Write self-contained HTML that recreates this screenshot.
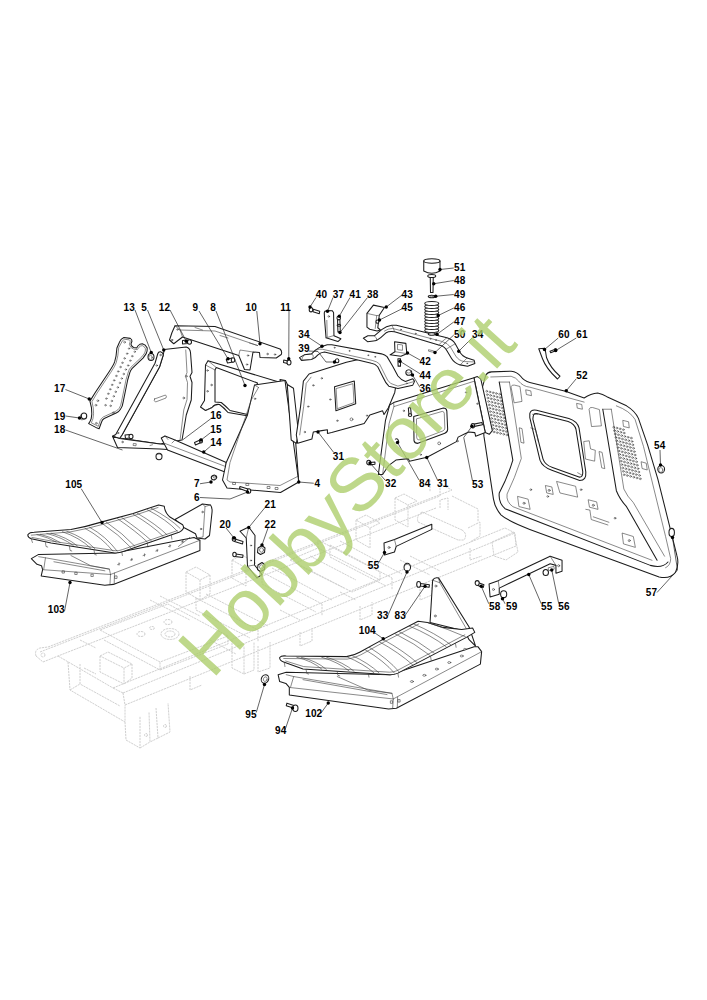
<!DOCTYPE html>
<html lang="it"><head><meta charset="utf-8"><title>HobbyStore.it</title>
<style>
html,body{margin:0;padding:0;background:#fff}
svg{display:block;font-family:"Liberation Sans",sans-serif}
.p *{vector-effect:non-scaling-stroke}
.p{fill:#fff;stroke:#1c1c1c;stroke-width:1.05;stroke-linejoin:round;stroke-linecap:round}
.n{fill:none}
.t{stroke-width:.6;stroke:#3a3a3a}
.ch{fill:none;stroke:#d0d0d0;stroke-width:1;stroke-dasharray:2.2 .8}
.ch *{vector-effect:non-scaling-stroke}
.ld{fill:none;stroke:#222;stroke-width:.7}
.dt{fill:#000}
.lb{font-weight:bold;font-size:10px;fill:#000}
.wm{font-size:75px;fill:#aecf6d;opacity:.8}
</style></head><body>
<svg width="707" height="1000" viewBox="0 0 707 1000">
<rect width="707" height="1000" fill="#fff"/>
<g class="ch">
<!-- far rail -->
<path d="M40,652 L440,496 M43,662 L58,656 L436,508 M48,647 L452,490 M36,656 Q34,650 40,648 L48,647 M36,656 L43,662"/>
<circle cx="43" cy="655" r="2"/>
<!-- near rail -->
<path d="M123,693 L515,533 M125,705 L516,546 M113,688 L505,528 M123,693 L125,705 M113,688 L123,693 M505,528 L515,533 L516,546"/>
<!-- left cross member -->
<path d="M58,656 L113,688 M68,662 L70,690 L125,722 L125,705 M70,690 L80,684 M80,664 L80,684 L120,706"/>
<!-- legs -->
<path d="M125,722 L126,740 L140,748 L140,716 M140,748 L150,742 L149,712 M156,708 L158,738 L170,732 L168,703 M158,738 L150,742"/>
<circle cx="146" cy="735" r="1.500"/><circle cx="165" cy="726" r="1.500"/>
<!-- deck plate -->
<path d="M100,630 L160,662 L228,636 L168,604 Z M104,640 L160,670 L160,662 M160,670 L228,644 L228,636"/>
<ellipse cx="170" cy="634" rx="9" ry="5.500"/><ellipse cx="170" cy="634" rx="5" ry="3"/><ellipse cx="141" cy="634" rx="4" ry="2.500"/><ellipse cx="168" cy="622" rx="4" ry="2.500"/><ellipse cx="152" cy="628" rx="2.500" ry="1.500"/>
<!-- motor box -->
<path d="M100,656 L100,672 L124,684 L124,668 Z M100,656 L108,652 L132,664 L124,668 M132,664 L132,678 L124,684 M80,640 L96,648 M84,668 L96,674"/>
<!-- cross members -->
<path d="M196,598 L258,630 M206,594 L268,626 M258,630 L258,642 M196,598 L196,610 L250,638"/>
<path d="M262,572 L322,604 M272,568 L332,600 M322,604 L322,616 M262,572 L262,584 L316,612"/>
<path d="M330,545 L392,578 M340,541 L402,574 M392,578 L392,590 M330,545 L330,557 L386,586"/>
<!-- posts / brackets -->
<path d="M186,572 L186,592 L200,600 L200,580 Z M186,572 L196,567 L210,575 L200,580 M210,575 L210,594 L200,600"/>
<path d="M232,560 L232,578 L246,586 L246,568 Z M232,560 L242,555 L256,563 L246,568"/>
<path d="M232,640 L232,668 L244,674 L244,646 M244,674 L254,670 L254,642 M258,646 L258,672 L270,668 L270,642"/>
<path d="M290,560 L352,592 L380,580 L318,548 Z M300,566 L344,588 M310,556 L356,580 M318,548 L318,540 L380,572 L380,580"/>
<path d="M356,520 L356,540 L370,548 L370,528 Z M356,520 L366,515 L380,523 L370,528"/>
<path d="M395,498 L395,520 L408,527 L408,505 Z M395,498 L404,494 L417,501 L408,505"/>
<!-- tube -->
<path d="M422,512 L462,530 M418,522 L458,540 M422,512 Q416,516 418,522 M462,530 Q468,534 464,540 L458,540 M440,508 L440,500 L448,498 L448,510"/>
<path d="M468,528 L480,522 L480,536 L470,542 M452,496 L478,509 L478,522 M430,480 L430,492 M440,496 L440,484 L452,490"/>
<!-- right end foot -->
<path d="M492,542 L514,532 L518,552 L506,560 L494,556 Z M470,548 L470,560 L482,556"/>
<path d="M420,586 L420,600 L432,595 L432,582 M300,632 L300,646 L312,641 L312,628 M360,606 L360,620 L372,615 L372,602 M190,676 L190,690 L202,685"/>
<path d="M150,600 L190,620 M160,596 L200,616 M210,640 L236,654 M280,610 L300,620 M340,592 L356,600 M400,560 L430,575 M410,556 L440,571"/>
</g>
<!-- LEFT GROUP : plate 17 zoom origin (80,325) scale 1/7.856 -->
<g class="p" transform="translate(80,325) scale(.12729)">
<path d="M310,135 Q318,110 345,98 L395,105 Q410,112 408,128 L400,150 Q405,170 422,176 L445,180 Q455,160 470,152 L490,148 Q515,155 528,180 Q530,205 520,225 L495,260 L410,340 Q398,352 392,372 L375,430 L340,600 Q335,640 318,662 Q305,682 288,690 L190,735 Q175,745 170,760 L150,815 L135,810 L68,775 Q82,755 88,735 Q96,700 90,650 L78,598 L120,530 L230,365 Q262,318 272,290 Q286,245 290,180 Z"/>
<path class="n t" d="M324,140 Q330,120 350,112 L388,117 Q396,122 394,132 L388,152 Q394,180 418,188 L450,194 Q462,172 476,165 L490,162 Q508,168 514,186 Q515,205 508,220 L486,250 L400,332 Q386,346 380,368 L362,428 L327,598 Q322,635 308,654 Q298,668 282,677 L184,722 Q166,733 158,752 L144,796 L88,768 Q98,750 102,735 Q110,700 104,650 L94,602 L132,538 L242,372 Q274,325 285,295 Q300,245 304,180 Z"/>
</g>
<g class="p" transform="translate(80,325) scale(.12729)" style="fill:none;stroke-width:.5;stroke:#333">
<circle cx="385" cy="185" r="6"/><circle cx="370" cy="225" r="6"/><circle cx="350" cy="262" r="6"/><circle cx="333" cy="297" r="6"/><circle cx="318" cy="330" r="6"/><circle cx="300" cy="365" r="6"/><circle cx="285" cy="400" r="6"/><circle cx="268" cy="435" r="6"/><circle cx="252" cy="470" r="6"/><circle cx="237" cy="505" r="6"/><circle cx="222" cy="540" r="6"/><circle cx="207" cy="578" r="6"/><circle cx="200" cy="630" r="6"/><circle cx="430" cy="210" r="6"/><circle cx="410" cy="245" r="6"/><circle cx="395" cy="280" r="6"/><circle cx="378" cy="318" r="6"/><circle cx="360" cy="350" r="6"/><circle cx="343" cy="385" r="6"/><circle cx="328" cy="420" r="6"/><circle cx="313" cy="455" r="6"/><circle cx="297" cy="490" r="6"/><circle cx="280" cy="525" r="6"/><circle cx="265" cy="560" r="6"/><circle cx="250" cy="597" r="6"/><circle cx="240" cy="635" r="6"/><circle cx="350" cy="135" r="7"/><circle cx="140" cy="595" r="7"/><circle cx="125" cy="630" r="7"/><circle cx="128" cy="772" r="7"/><circle cx="262" cy="690" r="7"/>
</g>
<g class="p" transform="translate(0,250) scale(.25)">
<!-- part 19 bolt -->
<ellipse cx="336" cy="664" rx="11" ry="12"/><path class="n t" d="M322,660 Q318,672 326,680 L340,676"/>
<!-- part 13 nut -->
<ellipse cx="604" cy="428" rx="12" ry="14"/><ellipse class="t" cx="602" cy="430" rx="7" ry="9"/>
</g>
<!-- tile B origin (140,290) -->
<g class="p" transform="translate(140,290) scale(.25)">
<!-- top bracket 10/12 -->
<path d="M140,143 L300,146 L560,236 Q570,245 565,258 L545,272 L480,270 L478,250 L452,248 L440,320 L418,318 L395,262 L170,188 L135,215 L118,200 L128,170 Z"/>
<path class="n t" d="M160,160 L300,164 L470,222 M170,188 L160,160 L140,143 M395,262 L400,240 L452,248 M220,150 L250,160 M320,182 L352,192 M438,212 L470,222"/>
<circle class="t" cx="128" cy="200" r="3"/><circle class="t" cx="150" cy="158" r="3"/><circle class="t" cx="510" cy="256" r="3"/><circle class="t" cx="540" cy="258" r="3"/><circle class="t" cx="432" cy="262" r="3"/><circle class="t" cx="428" cy="298" r="3"/>
<!-- bolt 12 -->
<path d="M170,202 L192,200 L192,214 L170,216 Z"/><ellipse cx="198" cy="208" rx="8" ry="9"/>
<!-- frame 8 -->
<path d="M272,283 L562,370 L562,392 L440,505 L352,490 Q335,470 318,458 Q300,455 288,470 L262,482 L242,468 L258,442 L262,300 Z"/>
<path class="n" d="M305,310 L470,372 L430,498 L360,482 Q340,462 325,450 L300,448 L300,320 Z"/>
<path class="n t" d="M262,300 L300,320 M272,283 L305,310 M262,482 L288,470"/>
<circle class="t" cx="270" cy="322" r="3"/><circle class="t" cx="286" cy="380" r="3"/><circle class="t" cx="270" cy="405" r="3"/>
<!-- bolt 9 -->
<path d="M345,278 L368,272 L372,288 L350,292 Z"/><ellipse cx="372" cy="280" rx="7" ry="9"/>
</g>
<g class="p" transform="translate(0,250) scale(.25)">
<!-- panel 5 : polygon in tile A coords (tile B x +560, y+160) -->
<path d="M657,398 L745,388 Q760,392 762,410 L768,490 L760,505 L768,530 L765,600 L755,630 L745,660 L735,720 L728,760 L640,776 L478,752 L488,740 L638,468 L653,420 Z"/>
<path class="n t" d="M743,400 L748,490 L742,505 L750,530 L748,598 L735,640 L720,762"/>
<circle class="t" cx="745" cy="505" r="3.5"/><circle class="t" cx="735" cy="592" r="3.5"/>
<path class="t" d="M618,596 L662,580 Q668,584 664,592 L622,608 Q614,604 618,596 Z"/>
<!-- bar -->
<path d="M631,415 Q634,406 642,407 Q652,410 653,420 L638,468 L488,740 L478,754 L450,745 L463,738 L620,453 Z"/>
<circle class="t" cx="642" cy="420" r="3"/><circle class="t" cx="627" cy="462" r="3"/><circle class="t" cx="472" cy="732" r="3"/>
<!-- strip 18 -->
<path d="M450,745 L478,754 L640,776 L720,780 L700,800 L640,796 L470,790 Z"/>
<circle class="t" cx="490" cy="768" r="3"/><path class="n t" d="M535,774 l10,1 l-1,8 l-10,-1 z M600,782 l10,-3"/>
<!-- bolts -->
<path d="M500,740 L520,738 L522,752 L502,754 Z"/><ellipse cx="524" cy="746" rx="8" ry="9"/>
<ellipse cx="636" cy="826" rx="12" ry="13"/><path class="n t" d="M626,818 Q636,812 648,820"/>
</g>
<g class="p" transform="translate(140,290) scale(.25)">
<!-- rail 14 -->
<path d="M85,592 L100,584 L140,600 L345,690 L340,728 L110,640 L95,612 Z"/>
<path class="n t" d="M95,612 L342,706 M140,600 L128,612 M100,584 L112,598"/>
<!-- bolt 15 -->
<path d="M218,610 L240,600 L244,610 L222,620 Z"/><ellipse cx="244" cy="604" rx="6" ry="8"/>
<!-- panel 4 -->
<path d="M560,358 L582,362 L600,400 L606,470 L612,520 L625,570 L622,600 L635,768 Z"/>
<path d="M458,380 L580,362 L635,768 L562,810 L348,792 L330,760 L345,690 L430,500 Z"/>
<path class="n t" d="M474,390 L445,440 L360,690 L348,760 L360,768 L560,782 L632,745 M458,380 L474,390"/>
<path class="n t" d="M372,770 h10 v8 h-10 z M425,774 h10 v8 h-10 z M510,786 h10 v8 h-10 z M542,790 h10 v8 h-10 z"/>
<circle class="t" cx="460" cy="435" r="3"/><circle class="t" cx="588" cy="392" r="3"/><circle class="t" cx="610" cy="520" r="3"/>
<!-- bolt 6 / 7 -->
<path d="M400,786 L432,796 L430,806 L398,794 Z"/><ellipse cx="436" cy="804" rx="7" ry="9"/>
<ellipse cx="296" cy="750" rx="11" ry="9" transform="rotate(-30 296 750)"/><ellipse class="t" cx="298" cy="748" rx="5" ry="4" transform="rotate(-30 298 748)"/>
<!-- bolt 11 -->
<path d="M575,280 L592,284 L590,294 L574,290 Z"/><ellipse cx="596" cy="290" rx="8" ry="10"/>
</g>
<!-- HOOD 52 : zoom origin (467,360) scale 1/2.946 -->
<g class="p" transform="translate(467,360) scale(.33946)">
<path d="M55,45 Q60,36 72,35 L130,33 Q148,35 158,48 Q168,62 185,66 L290,92 L345,112 Q365,98 385,97 Q400,100 412,108 L470,135 Q495,150 505,172 L532,250 L562,350 L592,470 L618,575 Q626,602 614,626 Q598,646 566,639 L185,499 Q120,474 100,456 Q82,435 78,410 L50,225 L40,100 Z"/>
<path class="n" d="M95,65 L135,295 Q120,345 95,392 Q92,420 112,438 L540,605 Q575,615 592,595"/>
<path class="n t" d="M125,65 L160,290 Q140,350 118,395 Q115,418 135,432 L545,590 M95,65 L125,65"/>
<path class="n" d="M400,145 L440,385 Q450,410 470,432 L560,590"/>
<path class="n t" d="M425,145 L462,380 Q472,402 490,420 L582,578 M400,145 L425,145"/>
<path class="n t" d="M440,135 Q480,150 495,175 L520,255 L585,520 L600,585 Q600,605 585,612"/>
<path class="n t" d="M70,50 L130,48 Q145,52 152,62 Q165,78 185,80 L345,124"/>
<!-- window -->
<path class="n" d="M185,158 Q188,145 205,148 L300,172 Q325,180 330,200 L350,330 Q352,355 332,355 L250,325 Q222,315 215,295 L185,170 Z"/>
<path class="n" d="M195,166 Q197,155 208,158 L298,181 Q317,188 321,204 L341,329 Q342,346 330,345 L252,317 Q230,309 224,292 L194,174 Z"/>
<path class="n t" d="M193,160 L208,160 M340,340 L326,332 M188,200 L202,205 L210,240"/>
<!-- small rects -->
<path class="t" d="M130,78 Q132,72 140,74 L156,78 L162,122 L140,126 Z"/>
<path class="t" d="M360,144 Q362,138 370,140 L390,146 L396,194 L368,196 Z"/>
<path class="t" d="M265,358 L320,372 L326,404 L275,392 Z"/>
<path class="t" d="M155,200 L162,202 L168,245 L160,243 Z M390,270 L398,272 L406,320 L398,318 Z"/>
<path class="t" d="M345,240 L360,238 L364,262 L378,266 L376,298 L350,292 Z"/>
<!-- tabs -->
<path class="t" d="M150,402 L180,410 L186,440 L154,432 Z M232,370 L250,374 L254,396 L236,392 Z M358,412 L382,418 L386,440 L362,434 Z M458,510 L490,520 L496,552 L462,542 Z M174,88 l14,3 l2,14 l-14,-3 z M324,128 l14,3 l2,14 l-14,-3 z M460,178 l16,4 l2,18 l-16,-4 z M514,300 l14,4 l3,20 l-14,-4 z"/>
<path class="n t" d="M350,440 L362,442 L366,470 L415,486 M372,462 L418,478"/>
<circle class="t" cx="168" cy="422" r="3"/><circle class="t" cx="242" cy="384" r="3"/><circle class="t" cx="372" cy="428" r="3"/><circle class="t" cx="478" cy="532" r="3"/><circle class="t" cx="188" cy="382" r="2.500"/><circle class="t" cx="336" cy="382" r="2.500"/><circle class="t" cx="436" cy="466" r="2.500"/><circle class="t" cx="238" cy="402" r="2.500"/>
<!-- nut 54, bolt 57 -->
<ellipse cx="572" cy="322" rx="10" ry="11"/><ellipse class="t" cx="571" cy="324" rx="6" ry="7"/>
<ellipse cx="603" cy="508" rx="8" ry="12"/>
<!-- bracket 55/56 -->
<path d="M65,660 L92,650 L245,578 L280,590 L280,622 L262,628 L262,605 L245,600 L95,672 L95,690 L68,698 Z"/>
<path class="n t" d="M92,650 L95,672 M245,578 L262,605"/><circle class="t" cx="78" cy="676" r="3"/><circle class="t" cx="270" cy="606" r="3"/>
<path d="M34,656 L50,662 L48,670 L32,664 Z"/><ellipse cx="30" cy="657" rx="6" ry="7"/>
<ellipse cx="108" cy="690" rx="9" ry="10"/>
<ellipse cx="232" cy="626" rx="8" ry="9"/><path class="t" d="M240,612 L256,608 L257,616 L242,620 Z"/>
</g>
<g class="p" transform="translate(467,360) scale(.33946)" style="fill:none;stroke-width:.45">
<circle cx="58.0" cy="92.0" r="2.6"/>
<circle cx="67.5" cy="94.2" r="2.6"/>
<circle cx="77.0" cy="96.4" r="2.6"/>
<circle cx="86.5" cy="98.6" r="2.6"/>
<circle cx="96.0" cy="100.8" r="2.6"/>
<circle cx="59.8" cy="102.0" r="2.6"/>
<circle cx="69.3" cy="104.2" r="2.6"/>
<circle cx="78.8" cy="106.4" r="2.6"/>
<circle cx="88.3" cy="108.6" r="2.6"/>
<circle cx="97.8" cy="110.8" r="2.6"/>
<circle cx="61.6" cy="112.0" r="2.6"/>
<circle cx="71.1" cy="114.2" r="2.6"/>
<circle cx="80.6" cy="116.4" r="2.6"/>
<circle cx="90.1" cy="118.6" r="2.6"/>
<circle cx="99.6" cy="120.8" r="2.6"/>
<circle cx="63.4" cy="122.0" r="2.6"/>
<circle cx="72.9" cy="124.2" r="2.6"/>
<circle cx="82.4" cy="126.4" r="2.6"/>
<circle cx="91.9" cy="128.6" r="2.6"/>
<circle cx="101.4" cy="130.8" r="2.6"/>
<circle cx="65.2" cy="132.0" r="2.6"/>
<circle cx="74.7" cy="134.2" r="2.6"/>
<circle cx="84.2" cy="136.4" r="2.6"/>
<circle cx="93.7" cy="138.6" r="2.6"/>
<circle cx="103.2" cy="140.8" r="2.6"/>
<circle cx="67.0" cy="142.0" r="2.6"/>
<circle cx="76.5" cy="144.2" r="2.6"/>
<circle cx="86.0" cy="146.4" r="2.6"/>
<circle cx="95.5" cy="148.6" r="2.6"/>
<circle cx="105.0" cy="150.8" r="2.6"/>
<circle cx="68.8" cy="152.0" r="2.6"/>
<circle cx="78.3" cy="154.2" r="2.6"/>
<circle cx="87.8" cy="156.4" r="2.6"/>
<circle cx="97.3" cy="158.6" r="2.6"/>
<circle cx="106.8" cy="160.8" r="2.6"/>
<circle cx="70.6" cy="162.0" r="2.6"/>
<circle cx="80.1" cy="164.2" r="2.6"/>
<circle cx="89.6" cy="166.4" r="2.6"/>
<circle cx="99.1" cy="168.6" r="2.6"/>
<circle cx="108.6" cy="170.8" r="2.6"/>
<circle cx="72.4" cy="172.0" r="2.6"/>
<circle cx="81.9" cy="174.2" r="2.6"/>
<circle cx="91.4" cy="176.4" r="2.6"/>
<circle cx="100.9" cy="178.6" r="2.6"/>
<circle cx="110.4" cy="180.8" r="2.6"/>
<circle cx="74.2" cy="182.0" r="2.6"/>
<circle cx="83.7" cy="184.2" r="2.6"/>
<circle cx="93.2" cy="186.4" r="2.6"/>
<circle cx="102.7" cy="188.6" r="2.6"/>
<circle cx="112.2" cy="190.8" r="2.6"/>
<circle cx="76.0" cy="192.0" r="2.6"/>
<circle cx="85.5" cy="194.2" r="2.6"/>
<circle cx="95.0" cy="196.4" r="2.6"/>
<circle cx="104.5" cy="198.6" r="2.6"/>
<circle cx="114.0" cy="200.8" r="2.6"/>
<circle cx="77.8" cy="202.0" r="2.6"/>
<circle cx="87.3" cy="204.2" r="2.6"/>
<circle cx="96.8" cy="206.4" r="2.6"/>
<circle cx="106.3" cy="208.6" r="2.6"/>
<circle cx="115.8" cy="210.8" r="2.6"/>
<circle cx="79.6" cy="212.0" r="2.6"/>
<circle cx="89.1" cy="214.2" r="2.6"/>
<circle cx="98.6" cy="216.4" r="2.6"/>
<circle cx="108.1" cy="218.6" r="2.6"/>
<circle cx="117.6" cy="220.8" r="2.6"/>
<circle cx="432.0" cy="198.0" r="2.6"/>
<circle cx="441.5" cy="200.4" r="2.6"/>
<circle cx="451.0" cy="202.8" r="2.6"/>
<circle cx="460.5" cy="205.2" r="2.6"/>
<circle cx="434.2" cy="208.0" r="2.6"/>
<circle cx="443.7" cy="210.4" r="2.6"/>
<circle cx="453.2" cy="212.8" r="2.6"/>
<circle cx="462.7" cy="215.2" r="2.6"/>
<circle cx="436.4" cy="218.0" r="2.6"/>
<circle cx="445.9" cy="220.4" r="2.6"/>
<circle cx="455.4" cy="222.8" r="2.6"/>
<circle cx="464.9" cy="225.2" r="2.6"/>
<circle cx="474.4" cy="227.6" r="2.6"/>
<circle cx="483.9" cy="230.0" r="2.6"/>
<circle cx="438.6" cy="228.0" r="2.6"/>
<circle cx="448.1" cy="230.4" r="2.6"/>
<circle cx="457.6" cy="232.8" r="2.6"/>
<circle cx="467.1" cy="235.2" r="2.6"/>
<circle cx="476.6" cy="237.6" r="2.6"/>
<circle cx="486.1" cy="240.0" r="2.6"/>
<circle cx="440.8" cy="238.0" r="2.6"/>
<circle cx="450.3" cy="240.4" r="2.6"/>
<circle cx="459.8" cy="242.8" r="2.6"/>
<circle cx="469.3" cy="245.2" r="2.6"/>
<circle cx="478.8" cy="247.6" r="2.6"/>
<circle cx="488.3" cy="250.0" r="2.6"/>
<circle cx="443.0" cy="248.0" r="2.6"/>
<circle cx="452.5" cy="250.4" r="2.6"/>
<circle cx="462.0" cy="252.8" r="2.6"/>
<circle cx="471.5" cy="255.2" r="2.6"/>
<circle cx="481.0" cy="257.6" r="2.6"/>
<circle cx="490.5" cy="260.0" r="2.6"/>
<circle cx="445.2" cy="258.0" r="2.6"/>
<circle cx="454.7" cy="260.4" r="2.6"/>
<circle cx="464.2" cy="262.8" r="2.6"/>
<circle cx="473.7" cy="265.2" r="2.6"/>
<circle cx="483.2" cy="267.6" r="2.6"/>
<circle cx="492.7" cy="270.0" r="2.6"/>
<circle cx="447.4" cy="268.0" r="2.6"/>
<circle cx="456.9" cy="270.4" r="2.6"/>
<circle cx="466.4" cy="272.8" r="2.6"/>
<circle cx="475.9" cy="275.2" r="2.6"/>
<circle cx="485.4" cy="277.6" r="2.6"/>
<circle cx="494.9" cy="280.0" r="2.6"/>
<circle cx="449.6" cy="278.0" r="2.6"/>
<circle cx="459.1" cy="280.4" r="2.6"/>
<circle cx="468.6" cy="282.8" r="2.6"/>
<circle cx="478.1" cy="285.2" r="2.6"/>
<circle cx="487.6" cy="287.6" r="2.6"/>
<circle cx="497.1" cy="290.0" r="2.6"/>
<circle cx="451.8" cy="288.0" r="2.6"/>
<circle cx="461.3" cy="290.4" r="2.6"/>
<circle cx="470.8" cy="292.8" r="2.6"/>
<circle cx="480.3" cy="295.2" r="2.6"/>
<circle cx="489.8" cy="297.6" r="2.6"/>
<circle cx="499.3" cy="300.0" r="2.6"/>
<circle cx="454.0" cy="298.0" r="2.6"/>
<circle cx="463.5" cy="300.4" r="2.6"/>
<circle cx="473.0" cy="302.8" r="2.6"/>
<circle cx="482.5" cy="305.2" r="2.6"/>
<circle cx="492.0" cy="307.6" r="2.6"/>
<circle cx="501.5" cy="310.0" r="2.6"/>
<circle cx="456.2" cy="308.0" r="2.6"/>
<circle cx="465.7" cy="310.4" r="2.6"/>
<circle cx="475.2" cy="312.8" r="2.6"/>
<circle cx="484.7" cy="315.2" r="2.6"/>
<circle cx="494.2" cy="317.6" r="2.6"/>
<circle cx="503.7" cy="320.0" r="2.6"/>
<circle cx="458.4" cy="318.0" r="2.6"/>
<circle cx="467.9" cy="320.4" r="2.6"/>
<circle cx="477.4" cy="322.8" r="2.6"/>
<circle cx="486.9" cy="325.2" r="2.6"/>
<circle cx="496.4" cy="327.6" r="2.6"/>
<circle cx="505.9" cy="330.0" r="2.6"/>
<circle cx="460.6" cy="328.0" r="2.6"/>
<circle cx="470.1" cy="330.4" r="2.6"/>
<circle cx="479.6" cy="332.8" r="2.6"/>
<circle cx="489.1" cy="335.2" r="2.6"/>
<circle cx="498.6" cy="337.6" r="2.6"/>
<circle cx="508.1" cy="340.0" r="2.6"/>
<circle cx="462.8" cy="338.0" r="2.6"/>
<circle cx="472.3" cy="340.4" r="2.6"/>
<circle cx="481.8" cy="342.8" r="2.6"/>
<circle cx="491.3" cy="345.2" r="2.6"/>
<circle cx="500.8" cy="347.6" r="2.6"/>
<circle cx="510.3" cy="350.0" r="2.6"/>
</g>
<!-- CENTER GROUP -->
<g class="p" transform="translate(285,350) scale(.28289)">
<!-- panel 31 left : side flange -->
<path d="M8,122 L30,135 L48,295 L40,330 L22,318 Z"/>
<!-- panel 31 left -->
<path d="M85,85 L217,43 L330,18 L392,125 L388,150 L365,205 L350,228 L345,215 L300,230 L280,260 L165,292 L150,295 L150,282 L130,285 L100,290 L95,315 L45,330 L40,300 L55,200 L65,110 Z"/>
<path class="n" d="M175,130 L245,110 L250,190 L180,215 Z"/>
<path class="n t" d="M182,136 L240,119 L244,186 L186,207 Z M92,96 L75,118 L66,200 L52,300"/>
<circle class="t" cx="235" cy="245" r="5"/><circle class="t" cx="185" cy="250" r="2.5"/><circle class="t" cx="290" cy="232" r="2.5"/><circle class="t" cx="100" cy="125" r="2.5"/><circle class="t" cx="82" cy="200" r="2.5"/><circle class="t" cx="160" cy="175" r="2.5"/><circle class="t" cx="130" cy="100" r="2.5"/><circle class="t" cx="70" cy="290" r="2.5"/>
<!-- panel 84/31 right : side flange -->
<path d="M668,98 L680,94 L692,102 L733,285 L722,298 L708,292 Z"/>
<!-- panel 84 -->
<path d="M370,195 L384,186 L668,98 L672,120 L708,292 L674,305 L671,292 L650,290 L638,295 L612,308 L606,324 L502,379 L440,393 L436,384 L392,389 L366,409 L345,440 L330,440 L355,250 Z"/>
<path class="n t" d="M385,200 L368,260 L345,440 M384,186 L385,200 L670,110"/>
<path class="n" d="M455,235 L560,205 Q570,205 572,215 L575,280 Q575,290 565,294 L470,330 Q458,330 456,320 Z"/>
<path class="n t" d="M466,243 L556,217 Q562,217 563,224 L565,276 Q565,283 558,286 L474,318 Q467,318 466,312 Z"/>
<circle class="t" cx="545" cy="330" r="5"/><circle class="t" cx="640" cy="150" r="2.5"/><circle class="t" cx="680" cy="190" r="2.5"/><circle class="t" cx="480" cy="370" r="2.5"/><circle class="t" cx="610" cy="322" r="2.5"/><circle class="t" cx="420" cy="215" r="2.5"/>
<!-- bolt on 84 top -->
<path d="M436,205 L444,203 L446,225 L438,227 Z"/><ellipse cx="442" cy="230" rx="6" ry="5"/>
<!-- bolt 84 inner clip -->
<path class="n" d="M390,315 Q400,310 402,325"/>
<!-- bolt 53 -->
<path d="M668,262 L696,256 L698,264 L670,270 Z"/><ellipse cx="664" cy="268" rx="6" ry="8"/>
<!-- bolt 32 -->
<path d="M300,398 L318,396 L318,404 L300,406 Z"/><ellipse cx="296" cy="398" rx="7" ry="8"/>
</g>
<g class="p" transform="translate(290,280) scale(.19802)">
<!-- crossbar 34 rear-left -->
<path d="M48,392 L72,378 L109,373 L127,355 Q145,340 165,334 L188,327 L211,327 L462,373 Q480,378 490,387 L518,434 L545,485 Q560,505 583,512 L620,499 L629,512 L620,531 L545,548 L499,536 Q482,520 471,494 L443,438 Q430,422 411,420 L174,364 Q155,366 141,378 Q125,398 109,401 L58,406 Z"/>
<path class="n t" d="M127,355 Q150,346 165,350 L415,406 Q440,412 452,424 L480,480 Q492,510 508,522 L545,536 L629,512 M109,373 Q128,382 109,401 M72,378 Q60,392 58,406"/>
<circle class="t" cx="225" cy="342" r="2.500"/><circle class="t" cx="300" cy="358" r="2.500"/><circle class="t" cx="395" cy="380" r="2.500"/><circle class="t" cx="430" cy="388" r="2.500"/><circle class="t" cx="590" cy="522" r="2.500"/>
<!-- small parts on crossbar -->
<ellipse cx="238" cy="408" rx="9" ry="10"/><path class="n t" d="M225,410 L222,420"/>
<!-- bracket 37 -->
<path d="M173,166 L176,158 L188,154 L213,155 L220,164 L222,282 L257,297 L242,311 L182,292 L175,204 Z"/>
<path class="n t" d="M182,292 L220,281 L222,282 M186,204 L188,286"/><circle class="t" cx="196" cy="184" r="4"/>
<!-- bolt 40 -->
<path d="M118,148 L150,158 L148,170 L116,160 Z"/><ellipse cx="106" cy="150" rx="9" ry="11"/>
<!-- bolt 41 -->
<path d="M240,200 L252,200 L254,262 L242,262 Z"/><ellipse cx="246" cy="192" rx="9" ry="9"/><ellipse cx="247" cy="228" rx="9" ry="5"/>
<!-- bracket 42 -->
<path d="M528,312 L585,320 L590,372 L560,385 L505,378 L530,362 Z"/>
<path class="n t" d="M530,362 L590,372 M545,325 L568,328 L568,355 L545,352 Z"/>
<!-- bolt 44 -->
<path d="M545,398 L558,398 L558,435 L546,435 Z"/>
<!-- nut 36 -->
<ellipse cx="600" cy="468" rx="15" ry="13"/><ellipse class="t" cx="600" cy="462" rx="11" ry="8"/>
</g>
<!-- crossbar 50/34 + cover 43 : zoom origin (355,295) scale 1/5.438 -->
<g class="p" transform="translate(355,295) scale(.18389)">
<path d="M65,100 L100,55 L160,68 L132,110 L124,178 L138,190 L120,196 L80,186 L65,175 Z"/>
<path class="n t" d="M65,100 L118,112 L132,110 M118,112 L110,182"/>
<ellipse cx="122" cy="145" rx="8" ry="9"/>
<path d="M45,235 L70,222 L105,222 Q125,205 145,188 Q170,170 200,165 L225,165 L500,232 Q530,240 545,265 L570,310 Q585,335 610,342 L648,355 L652,372 L612,388 L572,380 Q540,370 525,345 L495,295 Q480,275 455,272 L215,200 Q185,195 170,205 L140,232 Q120,250 100,250 L68,254 Z"/>
<path class="n t" d="M105,222 Q122,232 118,246 M200,165 Q212,182 215,200 M500,232 Q475,250 455,272 M545,265 L495,295 M610,342 L572,380 M160,196 Q180,182 205,182 L470,252 Q505,260 520,285 L548,332 Q565,358 595,362 L650,364"/>
<path class="t" d="M402,298 L428,304 L428,312 L402,306 Z"/>
<circle class="t" cx="250" cy="188" r="2.500"/><circle class="t" cx="330" cy="210" r="2.500"/><circle class="t" cx="410" cy="238" r="3"/><circle class="t" cx="440" cy="245" r="2.500"/><circle class="t" cx="610" cy="372" r="2.500"/>
</g>
<!-- RIGHT GROUP: spring assy & right crossbar, tile D origin (400,250) scale 1/4 -->
<g class="p" transform="translate(400,250) scale(.25)">
<!-- spring 46 -->
<path d="M99,215 L99,320 Q127,336 155,320 L155,215 Z" style="stroke:none"/>
<ellipse cx="127" cy="322" rx="28" ry="8"/>
<ellipse cx="127" cy="310" rx="28" ry="8"/>
<ellipse cx="127" cy="298" rx="28" ry="8"/>
<ellipse cx="127" cy="286" rx="28" ry="8"/>
<ellipse cx="127" cy="274" rx="28" ry="8"/>
<ellipse cx="127" cy="262" rx="28" ry="8"/>
<ellipse cx="127" cy="250" rx="28" ry="8"/>
<ellipse cx="127" cy="238" rx="28" ry="8"/>
<ellipse cx="127" cy="226" rx="28" ry="8"/>
<ellipse cx="127" cy="214" rx="28" ry="8"/>
<!-- washer 47 -->
<ellipse cx="127" cy="336" rx="14" ry="5"/>
<!-- washer 49 -->
<ellipse cx="127" cy="186" rx="14" ry="5"/><ellipse class="t" cx="127" cy="185" rx="7" ry="2.5"/>
<!-- pin 48 -->
<path d="M121,108 L133,108 L132,170 L122,170 Z"/><ellipse cx="127" cy="104" rx="16" ry="6"/>
<!-- cap 51 -->
<path d="M95,44 L95,84 Q127,102 160,84 L160,44 Z"/><ellipse cx="127.500" cy="44" rx="32.500" ry="9"/>
<!-- bracket 60 -->
<path d="M555,395 L580,393 L586,430 Q600,470 640,505 L630,516 Q585,475 570,435 Z"/>
<!-- bolt 61 -->
<path d="M600,405 L618,398 L620,404 L603,411 Z"/><ellipse cx="622" cy="400" rx="5" ry="6"/>
</g>
<!-- BOTTOM GROUP -->
<!-- side plate of left footboard: tile L origin (130,480) -->
<g class="p" transform="translate(130,480) scale(.25)">
<path d="M180,158 L290,96 L322,100 Q330,110 328,130 L318,222 L300,236 L268,232 L262,215 L215,190 Z"/>
<path class="n t" d="M290,96 L300,106 L292,228 L268,232 M300,106 L322,100"/><circle class="t" cx="290" cy="128" r="3"/><circle class="t" cx="284" cy="196" r="3"/>
<!-- bracket 21 -->
<path d="M440,205 L475,188 L500,222 L498,340 L528,378 L508,392 L470,345 L465,232 Z"/>
<path class="n t" d="M475,188 L465,232 M498,340 L470,345"/><circle class="t" cx="484" cy="262" r="2.500"/><circle class="t" cx="484" cy="322" r="2.500"/>
<!-- bolts 20 -->
<path d="M420,236 L452,246 L450,256 L418,246 Z"/><ellipse cx="416" cy="236" rx="7" ry="9"/>
<path d="M422,296 L452,300 L451,310 L421,306 Z"/><ellipse cx="418" cy="298" rx="7" ry="9"/>
<!-- nuts 22 -->
<path d="M512,272 L528,262 L540,272 L538,290 L522,298 L510,290 Z"/><ellipse class="t" cx="526" cy="280" rx="8" ry="9"/>
<path d="M512,340 L528,330 L540,340 L538,358 L522,366 L510,358 Z"/><ellipse class="t" cx="526" cy="348" rx="8" ry="9"/>
</g>
<!-- left footboard zoom origin (20,495) scale 1/3.535 -->
<g class="p" transform="translate(20,495) scale(.28289)">
<!-- tray 103 -->
<path d="M40,225 L66,210 L335,205 L615,150 L636,160 L636,196 L330,316 L300,319 L75,286 L80,264 L76,250 L60,245 Z"/>
<path class="n t" d="M80,264 L320,281 L636,160 M320,281 L318,317 M334,276 L333,314 M66,218 L90,222 L316,262 L320,281 M90,222 L84,262 M120,236 L300,268 M180,214 L250,250 L316,262 M560,182 L600,150"/>
<path class="n t" d="M150,268 h7 v8 h-7 z M195,273 h7 v8 h-7 z M252,280 h7 v8 h-7 z M336,286 h7 v9 h-7 z"/>
<path class="n t" d="M345,246 l8,-3 M390,230 l8,-3 M435,214 l8,-3 M480,198 l8,-3 M525,182 l8,-3 M570,166 l8,-3 M350,240 v8 M395,224 v8 M440,208 v8 M485,192 v8 M530,176 v8 M575,160 v8"/>
<!-- mat 105 -->
<path d="M28,140 Q34,132 50,132 L180,122 Q235,112 290,95 L400,65 L490,35 L510,40 Q512,62 530,78 L575,105 Q585,120 562,132 L365,200 Q350,206 335,205 L110,170 L40,155 Q26,150 28,140 Z"/>
<path class="n t" d="M40,142 L180,130 Q236,120 292,104 L402,73 L488,44 M42,150 L112,163 L336,197 Q350,198 362,193 L556,126"/>
<path class="n t" d="M60,140 Q100,150 128,166 M72,139 Q112,148 142,168 M95,136 Q150,150 188,178 M110,135 Q164,148 203,180 M150,130 Q210,150 250,188 M166,129 Q224,148 265,190 M230,118 Q290,150 328,198 M246,114 Q304,146 343,198 M290,100 Q350,140 392,186 M305,96 Q364,136 406,181 M345,84 Q410,128 450,166 M360,80 Q424,124 464,161 M400,68 Q468,108 506,146 M414,64 Q482,104 520,141 M450,52 Q520,88 556,128 M464,47 Q530,82 566,118"/>
<path class="n t" d="M40,156 l4,12 M90,168 l2,14 l6,2 M175,182 l2,14 l6,2 M262,196 l2,14 l6,2 M360,202 l2,12 M450,170 l2,14 M535,142 l2,14"/>
</g>
<!-- right footboard zoom origin (270,560) scale 1/3.074 -->
<g class="p" transform="translate(270,560) scale(.3253)">
<!-- triangle bracket -->
<path d="M500,62 Q505,52 518,55 L612,206 L632,265 L612,245 L598,218 L492,192 Z"/>
<path class="n t" d="M518,55 L522,70 L604,212 M500,62 L522,70"/><circle class="t" cx="510" cy="80" r="3"/><circle class="t" cx="508" cy="172" r="3"/>
</g>
<g class="p" transform="translate(275,600) scale(.31118)">
<!-- tray 102 -->
<path d="M10,240 L36,232 L370,240 L640,150 L652,150 L664,166 L660,206 L390,348 L365,350 L46,305 L46,281 L35,268 L15,262 Z"/>
<path class="n t" d="M46,281 L380,318 L664,166 M380,318 L378,349 M394,312 L393,346 M36,240 L60,246 L376,300 L380,318 M60,246 L50,280 M90,256 L360,304 M200,246 L300,290 L376,300"/>
<path class="n t" d="M372,324 h6 v8 h-6 z M396,320 h6 v8 h-6 z"/>
<ellipse class="t" cx="440" cy="262" rx="5" ry="3"/><ellipse class="t" cx="480" cy="242" rx="5" ry="3"/><ellipse class="t" cx="520" cy="222" rx="5" ry="3"/><ellipse class="t" cx="560" cy="201" rx="5" ry="3"/><ellipse class="t" cx="600" cy="180" rx="5" ry="3"/><ellipse class="t" cx="610" cy="158" rx="4" ry="2.500"/>
<!-- mat 104 -->
<path d="M15,185 Q20,178 36,180 L230,182 Q255,178 272,168 L350,125 L460,68 L490,72 L540,88 L600,95 L635,90 L642,104 L615,120 L395,235 Q382,241 368,240 L90,222 L30,200 Q14,194 15,185 Z"/>
<path class="n t" d="M28,188 L232,190 Q258,186 276,176 L354,133 L462,77 M34,196 L92,214 L368,232 Q382,232 392,227 L610,112"/>
<path class="n t" d="M70,184 Q120,196 150,222 M84,184 Q134,196 165,223 M150,184 Q205,200 238,228 M166,184 Q220,200 254,229 M230,182 Q285,205 318,234 M247,178 Q300,202 334,234 M290,160 Q350,195 385,236 M303,152 Q364,190 398,230 M335,134 Q400,170 442,208 M348,127 Q414,164 456,201 M385,108 Q450,140 498,178 M398,101 Q464,134 512,171 M432,84 Q500,112 550,150 M446,77 Q514,106 564,143 M490,72 Q560,95 612,118"/>
<path class="n t" d="M30,202 l2,12 M100,224 l2,12 l6,2 M200,230 l2,12 l6,2 M300,236 l2,12 M395,236 l2,12 M500,182 l2,12 M580,140 l2,12"/>
</g>
<g class="p" transform="translate(270,560) scale(.3253)">
<!-- bolt 83 -->
<path d="M462,72 L490,76 L489,84 L461,80 Z"/><ellipse cx="457" cy="75" rx="6" ry="9"/>
<!-- nut 33 -->
<ellipse cx="422" cy="22" rx="10" ry="12"/><path class="n t" d="M413,18 Q422,8 431,18"/>
<!-- bolt 94 -->
<path d="M52,440 L76,448 L74,456 L50,448 Z"/><ellipse cx="78" cy="456" rx="8" ry="10"/>
</g>
<g class="p">
<!-- nut 95 -->
<ellipse cx="265" cy="679" rx="3.6" ry="4.4" transform="rotate(25 265 679)"/><ellipse class="t" cx="265.300" cy="679" rx="1.8" ry="2.4" transform="rotate(25 265 679)"/>
<!-- bracket 55 center -->
<path d="M384,543 L394.500,539.600 L431.800,524.300 L431.800,529.400 L396.200,546.400 L394.500,552 L384.500,555 Z"/><path class="n t" d="M394.500,539.600 L396.200,546.400"/>
<circle class="t" cx="389" cy="547.500" r="1"/>
</g>
<g class="ld">
<path d="M135,310 L151.25,352.5"/>
<path d="M147.5,310 L163.75,350"/>
<path d="M170,310 L186.25,341.25"/>
<path d="M199,311 L228,358.75"/>
<path d="M216,311 L245,385.5"/>
<path d="M256.75,311 L260,343.75"/>
<path d="M289,311 L288.75,358.75"/>
<path d="M316,297.5 L310,307"/>
<path d="M333,297.5 L327.5,311.25"/>
<path d="M350,297.5 L339.25,316.25"/>
<path d="M367.5,297.5 L340,332.5"/>
<path d="M402,295 L386.25,307"/>
<path d="M402,308.75 L379.5,320"/>
<path d="M453.75,268 L440,269.5"/>
<path d="M453.75,280.5 L433.75,283.75"/>
<path d="M453.75,294.5 L435.75,296.25"/>
<path d="M453.75,308 L438.25,315.5"/>
<path d="M453.75,322 L437,334.25"/>
<path d="M453.75,335 L435,352.5"/>
<path d="M472.5,337.5 L458.75,351.25"/>
<path d="M558.25,338 L544.5,349.5"/>
<path d="M576.25,338 L555.75,350.5"/>
<path d="M308.75,337.5 L322,346.25"/>
<path d="M308.75,351 L318,351.5 L326,362 L334.5,362"/>
<path d="M420,360 L407.5,353"/>
<path d="M420,373.75 L400,361.25"/>
<path d="M420,387.5 L412.5,375"/>
<path d="M576.25,378.75 L566.25,390.75"/>
<path d="M65.5,389.5 L89.25,399"/>
<path d="M65.5,416 L79.5,418"/>
<path d="M65.5,430 L122.5,450"/>
<path d="M210.75,418.75 L182.5,440"/>
<path d="M210.75,432.5 L201,440"/>
<path d="M210.75,446 L203.75,452"/>
<path d="M660,450 L660.5,465"/>
<path d="M333.75,452.5 L318,432"/>
<path d="M313.75,483.25 L298.75,482"/>
<path d="M385,480 L370,463"/>
<path d="M419,480 L397.5,442.5"/>
<path d="M437.5,480 L426.75,457.5"/>
<path d="M472.5,481 L463.75,437.5 L472,426.25"/>
<path d="M200,483.75 L211,482"/>
<path d="M200,497.5 L230,499 L247.5,492"/>
<path d="M81.25,488.75 L102,522.5"/>
<path d="M265,507.5 L248.75,527.5"/>
<path d="M226,528 L234,538"/>
<path d="M268,528 L262,545"/>
<path d="M378,563.75 L384.5,552.5"/>
<path d="M387.5,616.25 L407,572"/>
<path d="M404.5,616.25 L425,586.25"/>
<path d="M374.25,632.5 L383.25,638.75"/>
<path d="M488.75,603.75 L481.25,586.25"/>
<path d="M505,603.75 L502.5,598.75"/>
<path d="M541.25,603.75 L528.75,574.5"/>
<path d="M558.75,603.75 L551.75,570"/>
<path d="M657,592.5 L677.5,570 L672.5,537.5"/>
<path d="M64.5,611.25 L70,582.5"/>
<path d="M256.25,712.5 L264.5,684.5"/>
<path d="M285,730 L292.5,708"/>
<path d="M320.5,713.75 L328.25,703"/>
</g><g class="dt">
<circle cx="151.25" cy="352.5" r="1.7"/>
<circle cx="163.75" cy="350" r="1.7"/>
<circle cx="186.25" cy="341.25" r="1.7"/>
<circle cx="228" cy="358.75" r="1.7"/>
<circle cx="245" cy="385.5" r="1.7"/>
<circle cx="260" cy="343.75" r="1.7"/>
<circle cx="288.75" cy="358.75" r="1.7"/>
<circle cx="310" cy="307" r="1.7"/>
<circle cx="327.5" cy="311.25" r="1.7"/>
<circle cx="339.25" cy="316.25" r="1.7"/>
<circle cx="340" cy="332.5" r="1.7"/>
<circle cx="386.25" cy="307" r="1.7"/>
<circle cx="379.5" cy="320" r="1.7"/>
<circle cx="440" cy="269.5" r="1.7"/>
<circle cx="433.75" cy="283.75" r="1.7"/>
<circle cx="435.75" cy="296.25" r="1.7"/>
<circle cx="438.25" cy="315.5" r="1.7"/>
<circle cx="437" cy="334.25" r="1.7"/>
<circle cx="435" cy="352.5" r="1.7"/>
<circle cx="458.75" cy="351.25" r="1.7"/>
<circle cx="544.5" cy="349.5" r="1.7"/>
<circle cx="555.75" cy="350.5" r="1.7"/>
<circle cx="322" cy="346.25" r="1.7"/>
<circle cx="334.5" cy="362" r="1.7"/>
<circle cx="407.5" cy="353" r="1.7"/>
<circle cx="400" cy="361.25" r="1.7"/>
<circle cx="412.5" cy="375" r="1.7"/>
<circle cx="566.25" cy="390.75" r="1.7"/>
<circle cx="89.25" cy="399" r="1.7"/>
<circle cx="79.5" cy="418" r="1.7"/>
<circle cx="201" cy="440" r="1.7"/>
<circle cx="203.75" cy="452" r="1.7"/>
<circle cx="660.5" cy="465" r="1.7"/>
<circle cx="318" cy="432" r="1.7"/>
<circle cx="298.75" cy="482" r="1.7"/>
<circle cx="370" cy="463" r="1.7"/>
<circle cx="397.5" cy="442.5" r="1.7"/>
<circle cx="426.75" cy="457.5" r="1.7"/>
<circle cx="472" cy="426.25" r="1.7"/>
<circle cx="211" cy="482" r="1.7"/>
<circle cx="247.5" cy="492" r="1.7"/>
<circle cx="102" cy="522.5" r="1.7"/>
<circle cx="248.75" cy="527.5" r="1.7"/>
<circle cx="234" cy="538" r="1.7"/>
<circle cx="262" cy="545" r="1.7"/>
<circle cx="384.5" cy="552.5" r="1.7"/>
<circle cx="407" cy="572" r="1.7"/>
<circle cx="425" cy="586.25" r="1.7"/>
<circle cx="383.25" cy="638.75" r="1.7"/>
<circle cx="481.25" cy="586.25" r="1.7"/>
<circle cx="502.5" cy="598.75" r="1.7"/>
<circle cx="528.75" cy="574.5" r="1.7"/>
<circle cx="551.75" cy="570" r="1.7"/>
<circle cx="672.5" cy="537.5" r="1.7"/>
<circle cx="70" cy="582.5" r="1.7"/>
<circle cx="264.5" cy="684.5" r="1.7"/>
<circle cx="292.5" cy="708" r="1.7"/>
<circle cx="328.25" cy="703" r="1.7"/>
</g><g class="lb">
<text x="123.6" y="311">13</text>
<text x="141.35" y="311">5</text>
<text x="158.85" y="311">12</text>
<text x="192.6" y="311">9</text>
<text x="210.35" y="311">8</text>
<text x="245.6" y="311">10</text>
<text x="280.35" y="311">11</text>
<text x="315.85" y="297.5">40</text>
<text x="332.85" y="297.5">37</text>
<text x="349.6" y="297.5">41</text>
<text x="367.1" y="297.5">38</text>
<text x="401.6" y="297.5">43</text>
<text x="401.6" y="311.25">45</text>
<text x="454.1" y="270.5">51</text>
<text x="454.1" y="284">48</text>
<text x="454.1" y="297.5">49</text>
<text x="454.1" y="311.25">46</text>
<text x="454.1" y="324.5">47</text>
<text x="454.1" y="338">50</text>
<text x="472.1" y="338">34</text>
<text x="558.35" y="338">60</text>
<text x="576.35" y="338">61</text>
<text x="298.35" y="338">34</text>
<text x="298.35" y="351.75">39</text>
<text x="419.6" y="365">42</text>
<text x="419.6" y="378.75">44</text>
<text x="419.6" y="392">36</text>
<text x="576.35" y="379.25">52</text>
<text x="54.1" y="392">17</text>
<text x="54.1" y="419.5">19</text>
<text x="54.1" y="433">18</text>
<text x="210.35" y="419">16</text>
<text x="210.35" y="433">15</text>
<text x="210.35" y="446">14</text>
<text x="654.1" y="448.5">54</text>
<text x="332.85" y="459.5">31</text>
<text x="314.6" y="486.75">4</text>
<text x="385.1" y="486.75">32</text>
<text x="419.1" y="487">84</text>
<text x="437.1" y="487">31</text>
<text x="472.1" y="487.5">53</text>
<text x="194.1" y="486.75">7</text>
<text x="194.1" y="500.5">6</text>
<text x="65.35" y="488.25">105</text>
<text x="264.6" y="508">21</text>
<text x="219.6" y="527.5">20</text>
<text x="264.6" y="527.5">22</text>
<text x="367.85" y="568.75">55</text>
<text x="377.1" y="619">33</text>
<text x="394.6" y="619">83</text>
<text x="358.85" y="633.75">104</text>
<text x="489.1" y="610.25">58</text>
<text x="506.1" y="610.25">59</text>
<text x="541.1" y="610.25">55</text>
<text x="558.35" y="610.25">56</text>
<text x="645.85" y="596.25">57</text>
<text x="47.85" y="613.25">103</text>
<text x="245.35" y="718.25">95</text>
<text x="275.1" y="733.75">94</text>
<text x="305.35" y="717">102</text>
</g>
<text class="wm" transform="translate(216.5,675.4) rotate(-47.57)" x="-6.15" y="0">HobbyStore.it</text>
</svg>
</body></html>
